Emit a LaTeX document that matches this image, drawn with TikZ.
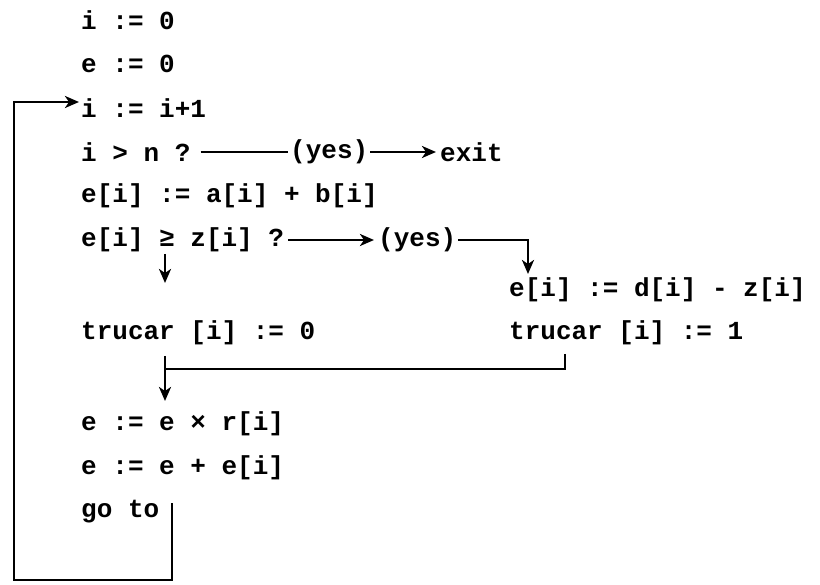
\documentclass[tikz,border=0pt]{standalone}
\usepackage{fontspec}
\setmainfont{Liberation Mono}
\usetikzlibrary{arrows.meta}
\tikzset{
  code/.style={anchor=west,inner sep=0pt,font=\fontsize{26}{26}\selectfont\bfseries},
  ln/.style={line width=2.8pt},
  arr/.style={ln,-{Stealth[length=14pt,width=12pt,inset=4pt]}}
}
\begin{document}
\begin{tikzpicture}[x=1pt,y=-1pt]
\useasboundingbox[fill=white] (0,0) rectangle (820,585);
\node[code] (n1) at (81,20) {i := 0};
\node[code] (n2) at (81,64) {e := 0};
\node[code] (n3) at (81,108) {i := i+1};
\node[code] (n4) at (81,152) {i > n ?};
\node[code] (yes1) at (290,152) {(yes)};
\node[code] (exit) at (440,152) {exit};
\node[code] (n5) at (81,196) {e[i] := a[i] + b[i]};
\node[code] (n6) at (81,240) {e[i] ≥ z[i] ?};
\node[code] (yes2) at (378,240) {(yes)};
\node[code] (n7) at (509,290) {e[i] := d[i] - z[i]};
\node[code] (n8) at (81,333) {trucar [i] := 0};
\node[code] (n9) at (509,333) {trucar [i] := 1};
\node[code] (n10) at (81,424) {e := e × r[i]};
\node[code] (n11) at (81,468) {e := e + e[i]};
\node[code] (n12) at (81,512) {go to};
% coordinates
\coordinate (c1) at (528,240);
\coordinate (c2) at (528,274);
\coordinate (d1) at (165,254);
\coordinate (d2) at (165,283);
\coordinate (m0) at (165,356);
\coordinate (m1) at (565,354);
\coordinate (m2) at (565,369);
\coordinate (m3) at (165,369);
\coordinate (m4) at (165,401);
\coordinate (g1) at (172,503);
\coordinate (g2) at (172,580);
\coordinate (g3) at (14,580);
\coordinate (g4) at (14,102);
\coordinate (g5) at (79,102);
% connectors
\draw[ln] ([xshift=10pt]n4.east) -- ([xshift=-2pt]yes1.west);
\draw[arr] ([xshift=2pt]yes1.east) -- ([xshift=-4pt]exit.west);
\draw[arr] ([xshift=4pt]n6.east) -- ([xshift=-4pt]yes2.west);
\draw[arr] ([xshift=2pt]yes2.east) -- (c1) -- (c2);
\draw[arr] (d1) -- (d2);
\draw[ln] (m1) -- (m2) -- (m3);
\draw[arr] (m0) -- (m4);
\draw[arr] (g1) -- (g2) -- (g3) -- (g4) -- (g5);
\end{tikzpicture}
\end{document}
